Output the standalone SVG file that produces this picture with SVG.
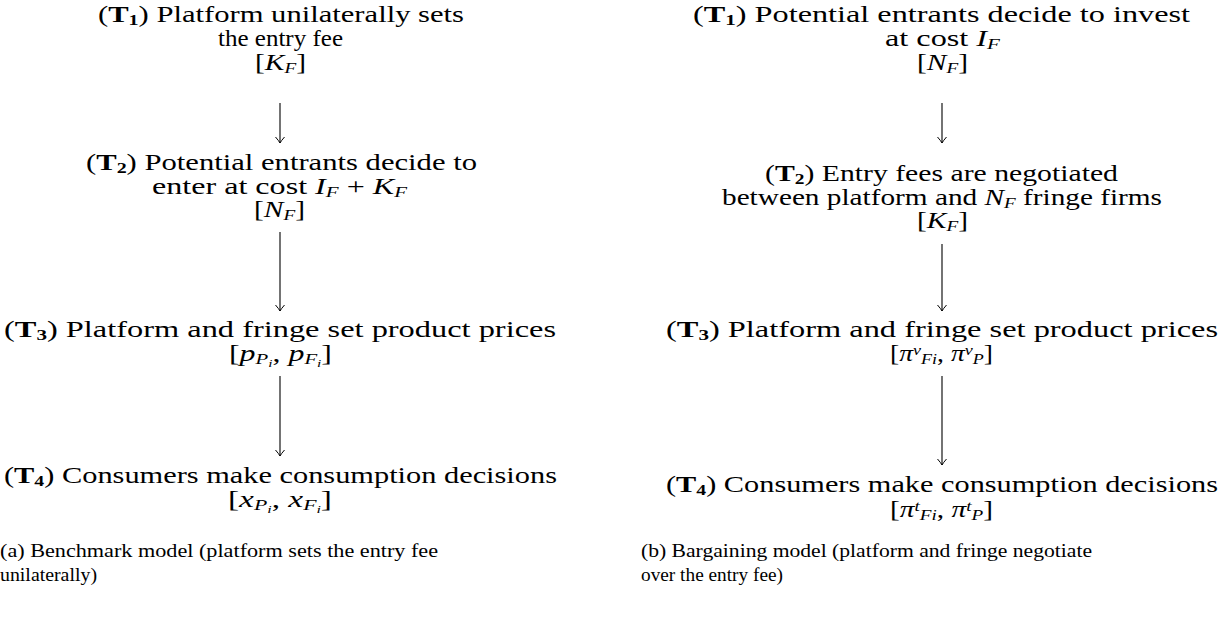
<svg xmlns="http://www.w3.org/2000/svg" width="1226" height="617" viewBox="0 0 1226 617">
<style>
text{font-family:"Liberation Serif",serif;font-size:23px;fill:#000}
.cap{font-size:19px}
.b{font-weight:bold}
.i{font-style:italic}
.s{font-size:15px}
.ss{font-size:11px}
.con line{stroke:#000;stroke-width:1.1;fill:none}
</style>
<defs>
<marker id="ah" markerUnits="userSpaceOnUse" markerWidth="14" markerHeight="14" viewBox="-8 -7 10 14" refX="0" refY="0" orient="auto">
<path d="M-6,-4.5 Q-2,-1 0,0 Q-2,1 -6,4.5" fill="none" stroke="#000" stroke-width="1"/>
</marker>
</defs>
<rect width="1226" height="617" fill="#fff"/>

<g id="a-t1">
<text x="98" y="22" textLength="366" lengthAdjust="spacingAndGlyphs">(<tspan class="b">T</tspan><tspan class="b s" baseline-shift="-3">1</tspan>) Platform unilaterally sets</text>
<text x="218" y="46" textLength="125" lengthAdjust="spacingAndGlyphs">the entry fee</text>
<text x="255" y="70" textLength="51" lengthAdjust="spacingAndGlyphs">[<tspan class="i">K</tspan><tspan class="i s" baseline-shift="-3">F</tspan>]</text>
</g>
<g id="a-t2">
<text x="86" y="170" textLength="391" lengthAdjust="spacingAndGlyphs">(<tspan class="b">T</tspan><tspan class="b s" baseline-shift="-3">2</tspan>) Potential entrants decide to</text>
<text x="152" y="194" textLength="255" lengthAdjust="spacingAndGlyphs">enter at cost <tspan class="i">I</tspan><tspan class="i s" baseline-shift="-3">F</tspan> + <tspan class="i">K</tspan><tspan class="i s" baseline-shift="-3">F</tspan></text>
<text x="254" y="217" textLength="51" lengthAdjust="spacingAndGlyphs">[<tspan class="i">N</tspan><tspan class="i s" baseline-shift="-3">F</tspan>]</text>
</g>
<g id="a-t3">
<text x="4" y="337" textLength="552" lengthAdjust="spacingAndGlyphs">(<tspan class="b">T</tspan><tspan class="b s" baseline-shift="-3">3</tspan>) Platform and fringe set product prices</text>
<text x="229" y="361" textLength="103" lengthAdjust="spacingAndGlyphs">[<tspan class="i">p</tspan><tspan class="i s" baseline-shift="-3">P</tspan><tspan class="i ss" baseline-shift="-6">i</tspan>, <tspan class="i">p</tspan><tspan class="i s" baseline-shift="-3">F</tspan><tspan class="i ss" baseline-shift="-6">i</tspan>]</text>
</g>
<g id="a-t4">
<text x="4" y="483" textLength="553" lengthAdjust="spacingAndGlyphs">(<tspan class="b">T</tspan><tspan class="b s" baseline-shift="-3">4</tspan>) Consumers make consumption decisions</text>
<text x="228" y="507" textLength="104" lengthAdjust="spacingAndGlyphs">[<tspan class="i">x</tspan><tspan class="i s" baseline-shift="-3">P</tspan><tspan class="i ss" baseline-shift="-6">i</tspan>, <tspan class="i">x</tspan><tspan class="i s" baseline-shift="-3">F</tspan><tspan class="i ss" baseline-shift="-6">i</tspan>]</text>
</g>
<g id="cap-a">
<text class="cap" x="0" y="557" textLength="438" lengthAdjust="spacingAndGlyphs">(a) Benchmark model (platform sets the entry fee</text>
<text class="cap" x="0" y="581" textLength="97" lengthAdjust="spacingAndGlyphs">unilaterally)</text>
</g>

<g id="b-t1">
<text x="693" y="22" textLength="497" lengthAdjust="spacingAndGlyphs">(<tspan class="b">T</tspan><tspan class="b s" baseline-shift="-3">1</tspan>) Potential entrants decide to invest</text>
<text x="885" y="46" textLength="115" lengthAdjust="spacingAndGlyphs">at cost <tspan class="i">I</tspan><tspan class="i s" baseline-shift="-3">F</tspan></text>
<text x="917" y="70" textLength="51" lengthAdjust="spacingAndGlyphs">[<tspan class="i">N</tspan><tspan class="i s" baseline-shift="-3">F</tspan>]</text>
</g>
<g id="b-t2">
<text x="765" y="181" textLength="353" lengthAdjust="spacingAndGlyphs">(<tspan class="b">T</tspan><tspan class="b s" baseline-shift="-3">2</tspan>) Entry fees are negotiated</text>
<text x="722" y="205" textLength="440" lengthAdjust="spacingAndGlyphs">between platform and <tspan class="i">N</tspan><tspan class="i s" baseline-shift="-3">F</tspan> fringe firms</text>
<text x="917" y="228" textLength="51" lengthAdjust="spacingAndGlyphs">[<tspan class="i">K</tspan><tspan class="i s" baseline-shift="-3">F</tspan>]</text>
</g>
<g id="b-t3">
<text x="666" y="337" textLength="552" lengthAdjust="spacingAndGlyphs">(<tspan class="b">T</tspan><tspan class="b s" baseline-shift="-3">3</tspan>) Platform and fringe set product prices</text>
<text x="890" y="361" textLength="103" lengthAdjust="spacingAndGlyphs">[<tspan class="i">π</tspan><tspan class="i s" baseline-shift="6">v</tspan><tspan class="i s" baseline-shift="-3">Fi</tspan>, <tspan class="i">π</tspan><tspan class="i s" baseline-shift="6">v</tspan><tspan class="i s" baseline-shift="-3">P</tspan>]</text>
</g>
<g id="b-t4">
<text x="666" y="492" textLength="552" lengthAdjust="spacingAndGlyphs">(<tspan class="b">T</tspan><tspan class="b s" baseline-shift="-3">4</tspan>) Consumers make consumption decisions</text>
<text x="890" y="517" textLength="103" lengthAdjust="spacingAndGlyphs">[<tspan class="i">π</tspan><tspan class="i s" baseline-shift="6">t</tspan><tspan class="i s" baseline-shift="-3">Fi</tspan>, <tspan class="i">π</tspan><tspan class="i s" baseline-shift="6">t</tspan><tspan class="i s" baseline-shift="-3">P</tspan>]</text>
</g>
<g id="cap-b">
<text class="cap" x="641" y="557" textLength="451" lengthAdjust="spacingAndGlyphs">(b) Bargaining model (platform and fringe negotiate</text>
<text class="cap" x="641" y="581" textLength="142" lengthAdjust="spacingAndGlyphs">over the entry fee)</text>
</g>

<g id="connectors" class="con">
<line x1="280" y1="103" x2="280" y2="143" marker-end="url(#ah)"/>
<line x1="280" y1="232" x2="280" y2="311" marker-end="url(#ah)"/>
<line x1="280" y1="376" x2="280" y2="456" marker-end="url(#ah)"/>
<line x1="942" y1="103" x2="942" y2="143" marker-end="url(#ah)"/>
<line x1="942" y1="244" x2="942" y2="311" marker-end="url(#ah)"/>
<line x1="942" y1="376" x2="942" y2="465" marker-end="url(#ah)"/>
</g>
</svg>
